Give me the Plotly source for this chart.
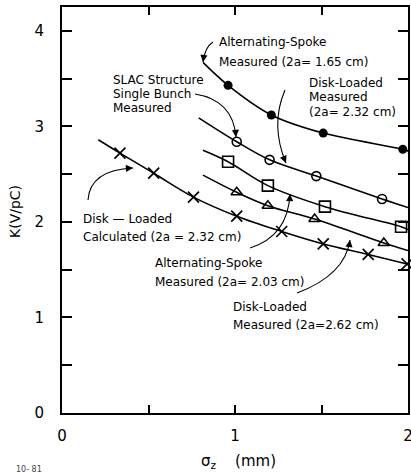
import math
import plotly.graph_objects as go

# ---- data ----
# Alternating-Spoke measured (2a=1.65 cm) : filled circles
sig_as165 = [0.96, 1.21, 1.51, 1.97]
k_as165 = [3.43, 3.12, 2.93, 2.76]
fit_as165_x = [0.815, 0.96, 1.21, 1.51, 1.97, 2.0]
fit_as165_y = [3.67, 3.43, 3.12, 2.93, 2.76, 2.74]

# SLAC structure single bunch measured : open circles
sig_slac = [1.01, 1.20, 1.47, 1.85]
k_slac = [2.84, 2.65, 2.48, 2.24]
fit_slac_x = [0.79, 1.01, 1.20, 1.47, 1.85, 2.0]
fit_slac_y = [3.09, 2.84, 2.65, 2.48, 2.24, 2.15]

# Disk-loaded measured (2a=2.32 cm) : squares
sig_dl232 = [0.96, 1.19, 1.52, 1.96]
k_dl232 = [2.63, 2.38, 2.16, 1.95]
fit_dl232_x = [0.815, 0.96, 1.19, 1.52, 1.96, 2.0]
fit_dl232_y = [2.75, 2.63, 2.38, 2.16, 1.95, 1.92]

# Alternating-Spoke measured (2a=2.03 cm) : triangles
sig_as203 = [1.01, 1.19, 1.46, 1.86]
k_as203 = [2.31, 2.17, 2.03, 1.78]
fit_as203_x = [0.815, 1.01, 1.19, 1.46, 1.86, 2.0]
fit_as203_y = [2.49, 2.31, 2.17, 2.03, 1.78, 1.70]

# Disk-loaded calculated (2a=2.32 cm) : crosses
sig_calc = [0.335, 0.53, 0.76, 1.01, 1.27, 1.51, 1.77, 1.995]
k_calc = [2.72, 2.51, 2.26, 2.06, 1.90, 1.77, 1.66, 1.56]
fit_calc_x = [0.21, 0.335, 0.53, 0.76, 1.01, 1.27, 1.51, 1.77, 1.995]
fit_calc_y = [2.86, 2.72, 2.51, 2.26, 2.06, 1.90, 1.77, 1.66, 1.56]

x_ticks = [0, 0.5, 1, 1.5, 2]
x_tick_text = ["0", "", "1", "", "2"]
y_ticks = [0, 0.5, 1, 1.5, 2, 2.5, 3, 3.5, 4]
y_tick_text = ["0", "", "1", "", "2", "", "3", "", "4"]

FONT = "DejaVu Sans"
W, H = 411, 473
L, R, T, B = 62, 3, 7, 60
pw, ph = W - L - R, H - T - B
X_MAX, Y_MAX = 2.0, 4.25

def px2x(px):
    return (px - L) / pw * X_MAX

def py2y(py):
    return (H - B - py) / ph * Y_MAX

def to_paper(px, py):
    return (px - L) / pw, (H - B - py) / ph

fig = go.Figure()

for fx, fy in [(fit_as165_x, fit_as165_y), (fit_slac_x, fit_slac_y),
               (fit_dl232_x, fit_dl232_y), (fit_as203_x, fit_as203_y),
               (fit_calc_x, fit_calc_y)]:
    fig.add_trace(go.Scatter(x=fx, y=fy, mode="lines",
                             line=dict(color="black", width=1.6, shape="spline", smoothing=1.0),
                             hoverinfo="skip", showlegend=False, cliponaxis=False))

fig.add_trace(go.Scatter(x=sig_as165, y=k_as165, mode="markers",
                         marker=dict(symbol="circle", size=9, color="black"), showlegend=False))
fig.add_trace(go.Scatter(x=sig_slac, y=k_slac, mode="markers",
                         marker=dict(symbol="circle-open", size=9, color="black",
                                     line=dict(width=1.6, color="black")),
                         showlegend=False))
fig.add_trace(go.Scatter(x=sig_dl232, y=k_dl232, mode="markers",
                         marker=dict(symbol="square-open", size=11, color="black",
                                     line=dict(width=1.6, color="black")),
                         showlegend=False))
fig.add_trace(go.Scatter(x=sig_as203, y=k_as203, mode="markers",
                         marker=dict(symbol="triangle-up-open", size=10, color="black",
                                     line=dict(width=1.5, color="black")),
                         showlegend=False))
fig.add_trace(go.Scatter(x=sig_calc, y=k_calc, mode="markers",
                         marker=dict(symbol="x-thin", size=11, color="black",
                                     line=dict(width=1.7, color="black")),
                         showlegend=False, cliponaxis=False))

labels = [
    (218, 42, "Alternating-Spoke"),
    (218, 62, "Measured (2a= 1.65 cm)"),
    (112, 80, "SLAC Structure"),
    (112, 94, "Single Bunch"),
    (112, 108, "Measured"),
    (308, 83, "Disk-Loaded"),
    (308, 97, "Measured"),
    (308, 112, "(2a= 2.32 cm)"),
    (82, 219, "Disk — Loaded"),
    (82, 237, "Calculated (2a = 2.32 cm)"),
    (154, 263, "Alternating-Spoke"),
    (154, 282, "Measured (2a= 2.03 cm)"),
    (232, 307, "Disk-Loaded"),
    (232, 325, "Measured (2a=2.62 cm)"),
]
for px, py, t in labels:
    fig.add_annotation(x=px2x(px), y=py2y(py), text=t, showarrow=False,
                       xanchor="left", yanchor="middle", borderpad=0,
                       font=dict(family=FONT, size=12, color="black"))

# curved leader arrows: (start, control, end) in pixels
leaders = [
    ((213, 42), (205, 47), (203, 62)),
    ((195, 94), (233, 100), (236, 137)),
    ((285, 90), (270, 125), (286, 163)),
    ((88, 200), (90, 170), (133, 168)),
    ((250, 248), (288, 236), (290, 194)),
    ((297, 293), (345, 275), (350, 240)),
]
shapes = []
for (sx, sy), (cx, cy), (ex, ey) in leaders:
    path = "M {},{} Q {},{} {},{}".format(px2x(sx), py2y(sy), px2x(cx), py2y(cy), px2x(ex), py2y(ey))
    shapes.append(dict(type="path", path=path, xref="x", yref="y",
                       line=dict(color="black", width=1.1)))
    dx, dy = cx - ex, cy - ey
    d = math.hypot(dx, dy)
    fig.add_annotation(x=px2x(ex), y=py2y(ey), ax=dx / d * 7, ay=dy / d * 7,
                       xref="x", yref="y", text="", showarrow=True,
                       arrowhead=2, arrowsize=1.3, arrowwidth=1.1, arrowcolor="black")

# axis titles and figure id
xa, ya = to_paper(15, 212)
fig.add_annotation(x=xa, y=ya, xref="paper", yref="paper", text="K(V/pC)", showarrow=False,
                   textangle=-90, xanchor="center", yanchor="middle",
                   font=dict(family=FONT, size=14, color="black"))
xa, ya = to_paper(238, 461)
fig.add_annotation(x=xa, y=ya, xref="paper", yref="paper", text="σ<sub>z</sub>    (mm)",
                   showarrow=False, xanchor="center", yanchor="middle",
                   font=dict(family=FONT, size=15, color="black"))
xa, ya = to_paper(29, 469)
fig.add_annotation(x=xa, y=ya, xref="paper", yref="paper", text="10- 81", showarrow=False,
                   xanchor="center", yanchor="middle",
                   font=dict(family=FONT, size=8, color="#444"))

fig.update_layout(
    width=W, height=H,
    margin=dict(l=L, r=R, t=T, b=B, pad=0, autoexpand=False),
    paper_bgcolor="white", plot_bgcolor="white",
    font=dict(family=FONT, color="black"),
    showlegend=False, shapes=shapes,
)
fig.update_xaxes(range=[0, X_MAX], tickvals=x_ticks, ticktext=x_tick_text,
                 ticks="inside", ticklen=8, tickwidth=1.5, tickcolor="black",
                 showline=True, linewidth=2, linecolor="black", mirror="ticks",
                 showgrid=False, zeroline=False, ticklabelstandoff=8, automargin=False,
                 ticklabeloverflow="allow",
                 tickfont=dict(family=FONT, size=15, color="black"))
fig.update_yaxes(range=[0, Y_MAX], tickvals=y_ticks, ticktext=y_tick_text,
                 ticks="inside", ticklen=10, tickwidth=1.5, tickcolor="black",
                 showline=True, linewidth=2, linecolor="black", mirror="ticks",
                 showgrid=False, zeroline=False, ticklabelstandoff=13, automargin=False,
                 ticklabeloverflow="allow",
                 tickfont=dict(family=FONT, size=15, color="black"))

fig.write_html("out.html", config={"displayModeBar": False},
               post_script="document.body.style.margin='0';document.body.style.padding='0';")
